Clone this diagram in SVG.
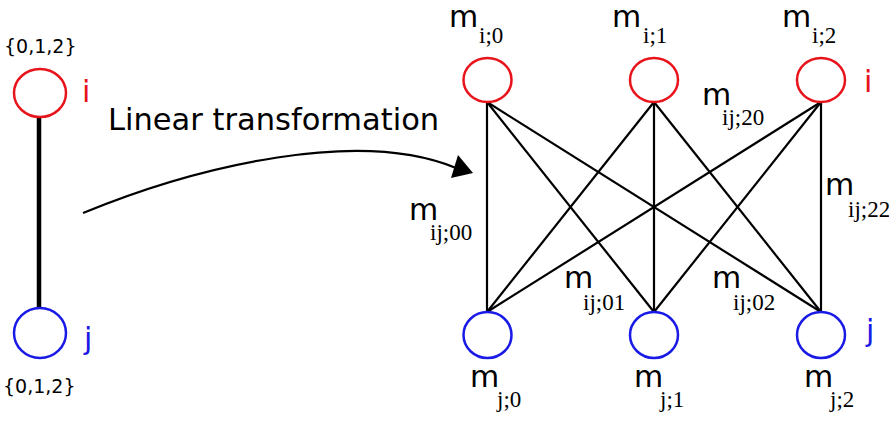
<svg xmlns="http://www.w3.org/2000/svg" width="889" height="422" viewBox="0 0 889 422">
<defs>
<style>
.ri{fill:none;stroke:#e8141c;stroke-width:2.5}
.bj{fill:none;stroke:#1a1ae6;stroke-width:2.5}
.e{stroke:#000;stroke-width:2.2;fill:none}
.m{font-family:"DejaVu Sans",sans-serif;font-size:30px;fill:#000}
.s{font-family:"Liberation Serif",serif;font-size:23px;fill:#000}
.lr{font-family:"DejaVu Sans",sans-serif;font-size:30px;fill:#e8141c}
.lb{font-family:"DejaVu Sans",sans-serif;font-size:30px;fill:#1a1ae6}
.set{font-family:"DejaVu Sans",sans-serif;font-size:19px;fill:#000}
</style>
</defs>
<rect width="889" height="422" fill="#fff"/>
<g id="connectors">
<line x1="39" y1="118" x2="39" y2="308" stroke="#000" stroke-width="4.5"/>
<path class="e" d="M83,213 C200,165 360,128 456,168" stroke-width="2.8"/>
<polygon points="473,173 451,178 458,155" fill="#000"/>
<line class="e" x1="487" y1="102" x2="487" y2="312"/>
<line class="e" x1="487" y1="102" x2="654" y2="312"/>
<line class="e" x1="487" y1="102" x2="821" y2="312"/>
<line class="e" x1="654" y1="102" x2="487" y2="312"/>
<line class="e" x1="654" y1="102" x2="654" y2="312"/>
<line class="e" x1="654" y1="102" x2="821" y2="312"/>
<line class="e" x1="821" y1="102" x2="487" y2="312"/>
<line class="e" x1="821" y1="102" x2="654" y2="312"/>
<line class="e" x1="821" y1="102" x2="821" y2="312"/>
</g>
<g id="left-i">
<ellipse class="ri" cx="40" cy="93" rx="26" ry="24"/>
<text class="lr" x="82" y="102">i</text>
<text class="set" x="4" y="53">{0,1,2}</text>
</g>
<g id="left-j">
<ellipse class="bj" cx="40" cy="333" rx="26" ry="25"/>
<text class="lb" x="84" y="349">j</text>
<text class="set" x="3" y="393">{0,1,2}</text>
</g>
<g id="label-transform">
<text x="108" y="130" font-family="DejaVu Sans, sans-serif" font-size="30.5" fill="#000">Linear transformation</text>
</g>
<g id="i0"><ellipse class="ri" cx="487.5" cy="80" rx="24" ry="22"/><text class="m" x="449" y="27">m</text><text class="s" x="479" y="43">i;0</text></g>
<g id="i1"><ellipse class="ri" cx="654" cy="80" rx="24" ry="22"/><text class="m" x="612" y="27">m</text><text class="s" x="643" y="43">i;1</text></g>
<g id="i2"><ellipse class="ri" cx="821" cy="80" rx="24" ry="22"/><text class="m" x="782" y="27">m</text><text class="s" x="812" y="43">i;2</text><text class="lr" x="864" y="92">i</text></g>
<g id="j0"><ellipse class="bj" cx="487.5" cy="335" rx="24" ry="23"/><text class="m" x="470" y="387">m</text><text class="s" x="497" y="407">j;0</text></g>
<g id="j1"><ellipse class="bj" cx="654" cy="335" rx="24" ry="23"/><text class="m" x="634" y="387">m</text><text class="s" x="660" y="407">j;1</text></g>
<g id="j2"><ellipse class="bj" cx="821" cy="335" rx="24" ry="23"/><text class="m" x="804" y="387">m</text><text class="s" x="830" y="407">j;2</text><text class="lb" x="866" y="341">j</text></g>
<g id="edge-labels">
<text class="m" x="702" y="105">m</text><text class="s" x="722" y="125">ij;20</text>
<text class="m" x="409" y="220">m</text><text class="s" x="430" y="240">ij;00</text>
<text class="m" x="825" y="195">m</text><text class="s" x="848" y="217">ij;22</text>
<text class="m" x="564" y="288">m</text><text class="s" x="583" y="310">ij;01</text>
<text class="m" x="712" y="288">m</text><text class="s" x="733" y="310">ij;02</text>
</g>
</svg>
